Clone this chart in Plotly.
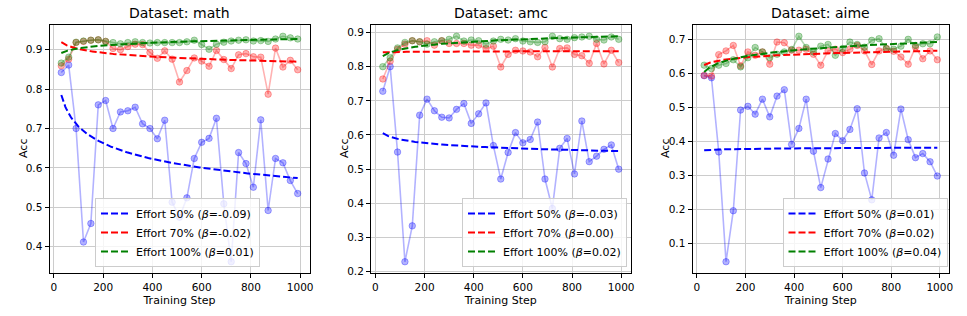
import numpy as np
import plotly.graph_objects as go

# ---------------- data ----------------
steps = [30, 60, 90, 120, 150, 180, 210, 240, 270, 300, 330, 360, 390, 420, 450, 480, 510,
         540, 570, 600, 630, 660, 690, 720, 750, 780, 810, 840, 870, 900, 930, 960, 990]

datasets = ["math", "amc", "aime"]
effort_names = ["Effort 50%", "Effort 70%", "Effort 100%"]
beta_text = {
    "math": ["-0.09", "-0.02", "0.01"],
    "amc": ["-0.03", "0.00", "0.02"],
    "aime": ["0.01", "0.02", "0.04"],
}
y_ticks = {
    "math": [0.4, 0.5, 0.6, 0.7, 0.8, 0.9],
    "amc": [0.2, 0.3, 0.4, 0.5, 0.6, 0.7, 0.8, 0.9],
    "aime": [0.1, 0.2, 0.3, 0.4, 0.5, 0.6, 0.7],
}
x_ticks = [0, 200, 400, 600, 800, 1000]

math_50 = [0.842, 0.861, 0.700, 0.412, 0.459, 0.760, 0.771, 0.700, 0.742, 0.745, 0.754, 0.712, 0.700,
           0.674, 0.721, 0.513, 0.475, 0.524, 0.624, 0.665, 0.675, 0.726, 0.509, 0.362, 0.639, 0.611,
           0.551, 0.722, 0.492, 0.624, 0.613, 0.568, 0.535]
math_70 = [0.859, 0.876, 0.918, 0.921, 0.924, 0.925, 0.921, 0.903, 0.900, 0.908, 0.914, 0.913, 0.893,
           0.878, 0.897, 0.876, 0.818, 0.847, 0.879, 0.871, 0.858, 0.898, 0.875, 0.852, 0.887, 0.890,
           0.882, 0.881, 0.787, 0.904, 0.856, 0.873, 0.849]
math_100 = [0.866, 0.881, 0.919, 0.922, 0.924, 0.925, 0.921, 0.918, 0.915, 0.918, 0.920, 0.918, 0.917,
            0.918, 0.918, 0.918, 0.918, 0.920, 0.924, 0.913, 0.901, 0.914, 0.919, 0.922, 0.924, 0.925,
            0.922, 0.923, 0.921, 0.927, 0.934, 0.930, 0.927]

amc_50 = [0.728, 0.800, 0.550, 0.229, 0.334, 0.658, 0.705, 0.671, 0.652, 0.650, 0.675, 0.692, 0.634,
          0.662, 0.694, 0.569, 0.471, 0.549, 0.607, 0.577, 0.587, 0.638, 0.471, 0.385, 0.561, 0.590,
          0.486, 0.641, 0.522, 0.538, 0.558, 0.571, 0.500]
amc_70 = [0.764, 0.816, 0.851, 0.866, 0.876, 0.873, 0.876, 0.863, 0.876, 0.868, 0.868, 0.868, 0.863,
          0.863, 0.853, 0.860, 0.799, 0.836, 0.848, 0.846, 0.843, 0.829, 0.856, 0.799, 0.853, 0.855,
          0.836, 0.832, 0.810, 0.868, 0.808, 0.848, 0.812]
amc_100 = [0.800, 0.826, 0.855, 0.871, 0.876, 0.873, 0.866, 0.873, 0.876, 0.880, 0.889, 0.875, 0.878,
           0.876, 0.866, 0.875, 0.880, 0.878, 0.882, 0.875, 0.873, 0.871, 0.873, 0.889, 0.882, 0.880,
           0.885, 0.887, 0.889, 0.880, 0.878, 0.887, 0.880]

aime_50 = [0.593, 0.587, 0.369, 0.046, 0.196, 0.492, 0.503, 0.480, 0.524, 0.472, 0.533, 0.552, 0.391,
           0.438, 0.524, 0.371, 0.264, 0.348, 0.423, 0.402, 0.435, 0.496, 0.307, 0.228, 0.410, 0.426,
           0.359, 0.495, 0.405, 0.352, 0.364, 0.340, 0.298]
aime_70 = [0.594, 0.592, 0.655, 0.666, 0.682, 0.622, 0.663, 0.653, 0.663, 0.627, 0.692, 0.690, 0.668,
           0.668, 0.671, 0.656, 0.624, 0.666, 0.671, 0.661, 0.671, 0.682, 0.666, 0.626, 0.666, 0.673,
           0.665, 0.648, 0.627, 0.677, 0.643, 0.666, 0.640]
aime_100 = [0.624, 0.614, 0.624, 0.629, 0.640, 0.619, 0.646, 0.676, 0.663, 0.646, 0.656, 0.663, 0.670,
            0.709, 0.676, 0.663, 0.680, 0.685, 0.653, 0.673, 0.692, 0.685, 0.677, 0.697, 0.702, 0.673,
            0.671, 0.680, 0.700, 0.682, 0.687, 0.687, 0.707]

series = {
    "math": [math_50, math_70, math_100],
    "amc": [amc_50, amc_70, amc_100],
    "aime": [aime_50, aime_70, aime_100],
}

# ---------------- style ----------------
rgb = [(0, 0, 255), (255, 0, 0), (0, 128, 0)]
W, H = 967, 316
ML, MR, MT, MB = 49, 18, 25, 43
PW = W - ML - MR
PH = H - MT - MB
px_domains = [(49.5, 309.5), (371.0, 630.5), (692.5, 949.0)]
domains = [((a - ML) / PW, (b - ML) / PW) for a, b in px_domains]
legend_right_px = [260.0, 627.0, 947.5]
ylabel_px = [23.0, 344.0, 665.0]
FONT = "DejaVu Sans"

fig = go.Figure()
x_arr = np.array(steps, dtype=float)
x_fit = np.linspace(min(steps), max(steps), 300)

for i, ds in enumerate(datasets):
    xa = "x" if i == 0 else f"x{i+1}"
    ya = "y" if i == 0 else f"y{i+1}"
    lg = "legend" if i == 0 else f"legend{i+1}"
    all_vals = []
    for j, ys in enumerate(series[ds]):
        r, g, b = rgb[j]
        c_a = f"rgba({r},{g},{b},0.3)"
        fig.add_trace(go.Scatter(
            x=steps, y=ys, xaxis=xa, yaxis=ya, mode="lines+markers",
            line=dict(color=c_a, width=1.6),
            marker=dict(color=c_a, size=6.5, line=dict(color=c_a, width=1)),
            showlegend=False, hoverinfo="skip"))
        all_vals.extend(ys)
    for j, ys in enumerate(series[ds]):
        r, g, b = rgb[j]
        beta, ln_a = np.polyfit(np.log(x_arr), np.log(np.array(ys)), 1)
        y_fit = np.exp(ln_a) * x_fit ** beta
        all_vals.extend(list(y_fit))
        fig.add_trace(go.Scatter(
            x=x_fit, y=y_fit, xaxis=xa, yaxis=ya, mode="lines",
            line=dict(color=f"rgb({r},{g},{b})", width=2, dash="7px,3px"),
            name=f"{effort_names[j]} (<i>β</i>={beta_text[ds][j]})",
            legend=lg, showlegend=True, hoverinfo="skip"))
    lo, hi = min(all_vals), max(all_vals)
    pad = 0.05 * (hi - lo)
    yr = [lo - pad, hi + pad]

    axis_common = dict(
        showline=True, mirror=True, linecolor="black", linewidth=1,
        ticks="outside", ticklen=4, tickwidth=1, tickcolor="black",
        showgrid=True, gridcolor="#cccccc", gridwidth=1, zeroline=False,
        tickfont=dict(family=FONT, size=10.5, color="black"),
    )
    fig.layout[("xaxis" if i == 0 else f"xaxis{i+1}")] = dict(
        domain=list(domains[i]), anchor=ya, range=[-18, 1038],
        tickmode="array", tickvals=x_ticks, ticktext=[str(t) for t in x_ticks],
        title=dict(text="Training Step", standoff=4, font=dict(family=FONT, size=11, color="black")),
        **axis_common)
    fig.layout[("yaxis" if i == 0 else f"yaxis{i+1}")] = dict(
        domain=[0, 1], anchor=xa, range=yr,
        tickmode="array", tickvals=y_ticks[ds], ticktext=[f"{t:.1f}" for t in y_ticks[ds]],
        **axis_common)
    fig.add_annotation(
        text="Acc", textangle=-90, x=(ylabel_px[i] - ML) / PW, y=0.5,
        xref="paper", yref="paper", xanchor="center", yanchor="middle",
        showarrow=False, font=dict(family=FONT, size=11, color="black"))
    fig.layout[lg] = dict(
        x=(legend_right_px[i] - ML) / PW, y=(H - MB - 267) / PH,
        xanchor="right", yanchor="bottom", xref="paper", yref="paper",
        bgcolor="rgba(255,255,255,0.8)", bordercolor="#cccccc", borderwidth=1,
        font=dict(family=FONT, size=11, color="black"),
        itemwidth=30, tracegroupgap=0)
    fig.add_annotation(
        text=f"Dataset: {ds}", x=(domains[i][0] + domains[i][1]) / 2, y=1,
        xref="paper", yref="paper", xanchor="center", yanchor="bottom", yshift=2,
        showarrow=False, font=dict(family=FONT, size=14, color="black"))

fig.update_layout(
    width=W, height=H,
    margin=dict(l=ML, r=MR, t=MT, b=MB),
    paper_bgcolor="white", plot_bgcolor="white",
    font=dict(family=FONT, color="black"),
)

fig.write_html("out.html", config={"displayModeBar": False},
               post_script="document.body.style.margin='0';document.body.style.padding='0';")
